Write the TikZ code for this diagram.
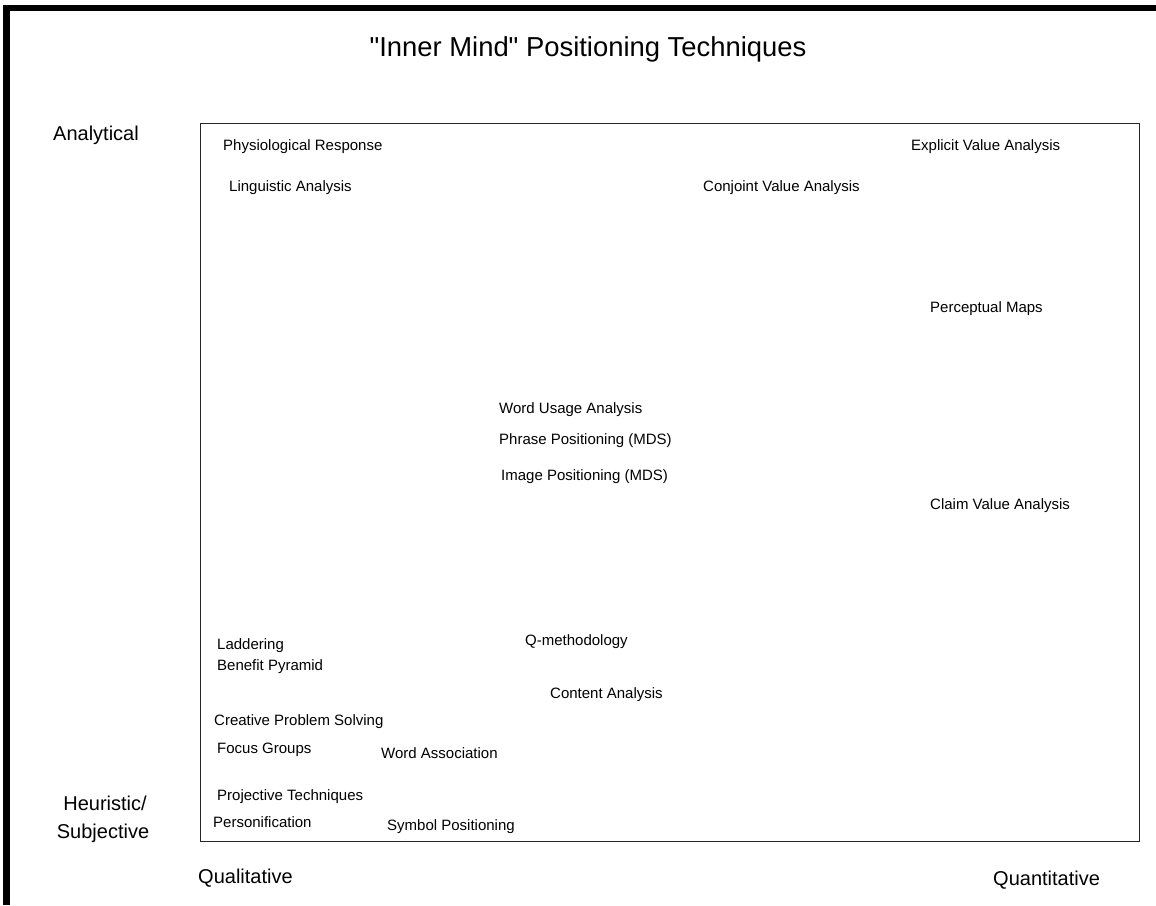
\documentclass[tikz,border=0pt]{standalone}
\usepackage{fontspec}
% plain font mapping so that " prints as a straight quote
\setmainfont{Liberation Sans}[Ligatures=TeXOff]
\begin{document}
\begin{tikzpicture}[x=1pt,y=-1pt,
  item/.style={anchor=base west,inner sep=0pt,font=\fontsize{15}{18}\selectfont},
  axis/.style={inner sep=0pt,font=\fontsize{20}{27}\selectfont},
  frame/.style={draw=black!85,line width=1pt}]
\useasboundingbox (0,0) rectangle (1156,905);
% heavy frame along the top and left edges
\fill[black] (3,5) rectangle (1156,11);
\fill[black] (3,5) rectangle (10,905);
% title
\node[anchor=base,inner sep=0pt,font=\fontsize{27.4}{32}\selectfont] (title) at (588,56) {"Inner Mind" Positioning Techniques};
% plotting area
\draw[frame] (200,123) rectangle (1139,841);
% axis labels
\node[axis,anchor=base west] (analytical) at (53,140) {Analytical};
\node[axis,anchor=base] (heuristic) at (105,810) {Heuristic/};
\node[axis,anchor=base] (subjective) at (103,838) {Subjective};
\node[axis,anchor=base west] (qualitative) at (198,883) {Qualitative};
\node[axis,anchor=base west] (quantitative) at (993,885) {Quantitative};
% techniques
\node[item] (physio) at (223,150) {Physiological Response};
\node[item] (ling) at (229,191) {Linguistic Analysis};
\node[item] (explicit) at (911,150) {Explicit Value Analysis};
\node[item] (conjoint) at (703,191) {Conjoint Value Analysis};
\node[item] (percept) at (930,312) {Perceptual Maps};
\node[item] (wordusage) at (499,413) {Word Usage Analysis};
\node[item] (phrase) at (499,444) {Phrase Positioning (MDS)};
\node[item] (image) at (501,480) {Image Positioning (MDS)};
\node[item] (claim) at (930,509) {Claim Value Analysis};
\node[item] (qmeth) at (525,645) {Q-methodology};
\node[item] (ladder) at (217,649) {Laddering};
\node[item] (benefit) at (217,670) {Benefit Pyramid};
\node[item] (content) at (550,698) {Content Analysis};
\node[item] (creative) at (214,725) {Creative Problem Solving};
\node[item] (focus) at (217,753) {Focus Groups};
\node[item] (wordassoc) at (381,758) {Word Association};
\node[item] (projective) at (217,800) {Projective Techniques};
\node[item] (person) at (213,827) {Personification};
\node[item] (symbol) at (387,830) {Symbol Positioning};
\end{tikzpicture}
\end{document}
